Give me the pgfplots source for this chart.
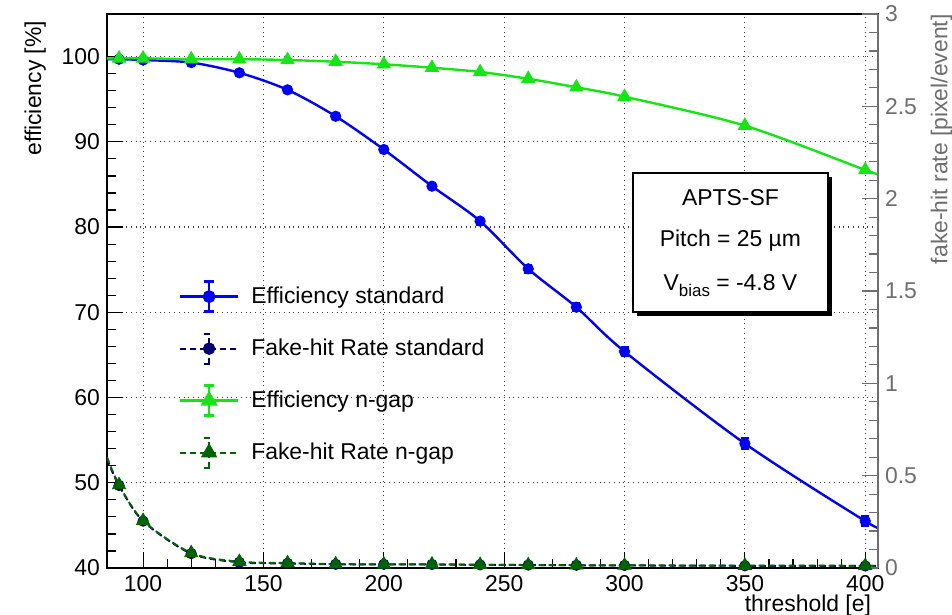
\documentclass[border=0pt]{standalone}
\usepackage{fontspec}
\setmainfont{Liberation Sans}
\usepackage{pgfplots}
\pgfplotsset{compat=1.18}
\usetikzlibrary{shadows}

\definecolor{effblue}{RGB}{0,0,255}
\definecolor{effgreen}{RGB}{20,230,20}
\definecolor{fakenavy}{RGB}{0,0,110}
\definecolor{fakegreen}{RGB}{0,100,0}
\definecolor{rightgray}{RGB}{110,110,110}

% x, value, error
\pgfplotstableread{
x   y     e
90  99.7  0.15
100 99.6  0.15
120 99.3  0.2
140 98.1  0.25
160 96.1  0.25
180 93.0  0.3
200 89.1  0.3
220 84.8  0.35
240 80.7  0.4
260 75.1  0.5
280 70.6  0.5
300 65.4  0.5
350 54.6  0.6
400 45.5  0.6
}\effstd
\pgfplotstableread{
x   y     e
90  99.8  0.1
100 99.8  0.1
120 99.7  0.1
140 99.7  0.1
160 99.6  0.1
180 99.4  0.1
200 99.1  0.1
220 98.7  0.1
240 98.2  0.1
260 97.4  0.1
280 96.4  0.1
300 95.3  0.1
350 91.9  0.1
400 86.7  0.1
}\effngap
\pgfplotstableread{
x   y
90  0.447
100 0.254
120 0.078
140 0.031
160 0.025
180 0.02
200 0.02
220 0.019
240 0.017
260 0.016
280 0.015
300 0.014
350 0.012
400 0.011
}\fakestd
\pgfplotstableread{
x   y
90  0.45
100 0.256
120 0.081
140 0.034
160 0.027
180 0.021
200 0.02
220 0.02
240 0.018
260 0.016
280 0.015
300 0.014
350 0.013
400 0.012
}\fakengap

\begin{document}
\begin{tikzpicture}[font=\fontsize{11.5}{13.8}\selectfont]
\pgfplotsset{
  common/.style={
    at={(0,0)}, anchor=south west,
    scale only axis, width=385.5bp, height=277bp,
    xmin=85, xmax=405.3,
    tick align=inside,
    major tick length=8bp, minor tick length=4.5bp,
    /pgf/number format/assume math mode=true,
  }
}
\begin{axis}[
  common,
  ymin=40, ymax=105,
  xtick={100,150,...,400}, minor x tick num=4,
  ytick={40,50,...,100}, minor y tick num=4,
  xtick pos=bottom, ytick pos=left,
  grid=major, grid style={dotted, black!75, line width=0.6pt},
  axis line style={line width=0.8pt},
  every tick/.style={black, line width=0.6pt},
  ylabel={efficiency [\%]},
  ylabel style={at={(axis description cs:-0.07,1)}, anchor=south east},
  xlabel={threshold [e]},
  xlabel style={at={(axis description cs:1,-0.036)}, anchor=north east},
]
% curves
\addplot[effblue, line width=1.2bp, smooth] coordinates {
  (85,99.7) (90,99.7) (100,99.6) (120,99.3) (140,98.1) (160,96.1) (180,93.0)
  (200,89.1) (220,84.8) (240,80.7) (260,75.1) (280,70.6) (300,65.4) (350,54.6)
  (400,45.5) (405.3,44.9)};
\addplot[effgreen, line width=1.2bp, smooth] coordinates {
  (85,99.8) (90,99.8) (100,99.8) (120,99.7) (140,99.7) (160,99.6) (180,99.4)
  (200,99.1) (220,98.7) (240,98.2) (260,97.4) (280,96.4) (300,95.3) (350,91.9)
  (400,86.7) (405.3,86.2)};
% points with error bars
\addplot[effblue, only marks, mark=*, mark size=2.6bp,
  error bars/.cd, y dir=both, y explicit,
  error bar style={line width=1bp},
  error mark options={rotate=90, mark size=2bp, line width=1bp}]
  table[x=x, y=y, y error=e] {\effstd};
\addplot[effgreen, only marks, mark=triangle*, mark size=3.8bp,
  error bars/.cd, y dir=both, y explicit,
  error bar style={line width=1bp},
  error mark options={rotate=90, mark size=2bp, line width=1bp}]
  table[x=x, y=y, y error=e] {\effngap};

% info box
\node[draw=black, fill=white, line width=0.8pt,
  minimum width=97.5bp, minimum height=69.5bp,
  drop shadow={shadow xshift=2.2bp, shadow yshift=-2.2bp, fill=black, opacity=1}]
  at (axis cs:344,78.2) {};
\node[anchor=base] at (axis cs:344,82.5) {APTS-SF};
\node[anchor=base] at (axis cs:344,77.7) {Pitch = 25 µm};
\node[anchor=base] at (axis cs:344,72.6) {V\raisebox{-0.55ex}{\fontsize{8.5}{8.5}\selectfont bias} = -4.8 V};
\end{axis}

\begin{axis}[
  common,
  ymin=0, ymax=3,
  axis x line=none,
  axis y line*=right,
  ytick={0,0.5,1,1.5,2,2.5,3}, minor y tick num=4,
  yticklabels={0,0.5,1,1.5,2,2.5,3},
  y axis line style={rightgray, line width=0.8pt},
  y tick label style={rightgray},
  every tick/.style={rightgray, line width=0.6pt},
  ylabel={fake-hit rate [pixel/event]},
  ylabel style={rightgray, inner sep=0pt, at={(axis description cs:1.068,1)}, anchor=north east},
  legend cell align=left,
  legend style={at={(axis description cs:0.085,0.527)}, anchor=north west,
    draw=none, fill=none, row sep=9.9bp,
    font=\fontsize{11.5}{13.8}\selectfont,
    /tikz/every odd column/.append style={column sep=4bp}},
  legend image code/.code={
    \draw[#1] (0bp,0bp) -- (29bp,0bp);
    \draw[#1] (14.5bp,-7.5bp) -- (14.5bp,7.5bp);
    \draw[#1] (12bp,-7.5bp) -- (17bp,-7.5bp) (12bp,7.5bp) -- (17bp,7.5bp);
    \draw[#1] plot coordinates {(14.5bp,0bp)};
  },
]
\addplot[fakenavy, line width=1bp, dash pattern=on 3bp off 2bp, smooth, forget plot] coordinates {
  (85,0.59) (90,0.447) (100,0.254) (120,0.078) (140,0.031) (160,0.025) (180,0.02)
  (200,0.02) (220,0.019) (240,0.017) (260,0.016) (280,0.015) (300,0.014)
  (350,0.012) (400,0.011) (405.3,0.011)};
\addplot[fakenavy, only marks, mark=*, mark size=2.6bp, forget plot]
  table[x=x, y=y] {\fakestd};
\addplot[fakegreen, line width=1bp, dash pattern=on 3bp off 2bp, smooth, forget plot] coordinates {
  (85,0.60) (90,0.45) (100,0.256) (120,0.081) (140,0.034) (160,0.027) (180,0.021)
  (200,0.02) (220,0.02) (240,0.018) (260,0.016) (280,0.015) (300,0.014)
  (350,0.013) (400,0.012) (405.3,0.012)};
\addplot[fakegreen, only marks, mark=triangle*, mark size=3.8bp, forget plot]
  table[x=x, y=y] {\fakengap};

\addlegendimage{effblue, line width=1.2bp, mark=*, mark size=2.6bp}
\addlegendimage{fakenavy, line width=1bp, dash pattern=on 3bp off 2bp, mark=*, mark size=2.6bp, mark options={solid}}
\addlegendimage{effgreen, line width=1.2bp, mark=triangle*, mark size=3.8bp}
\addlegendimage{fakegreen, line width=1bp, dash pattern=on 3bp off 2bp, mark=triangle*, mark size=3.8bp, mark options={solid}}
\legend{Efficiency standard, Fake-hit Rate standard, Efficiency n-gap, Fake-hit Rate n-gap}
\end{axis}

\pgfresetboundingbox
\path[use as bounding box] (-53.5bp,-23.5bp) rectangle (422.5bp,284bp);
\end{tikzpicture}
\end{document}
